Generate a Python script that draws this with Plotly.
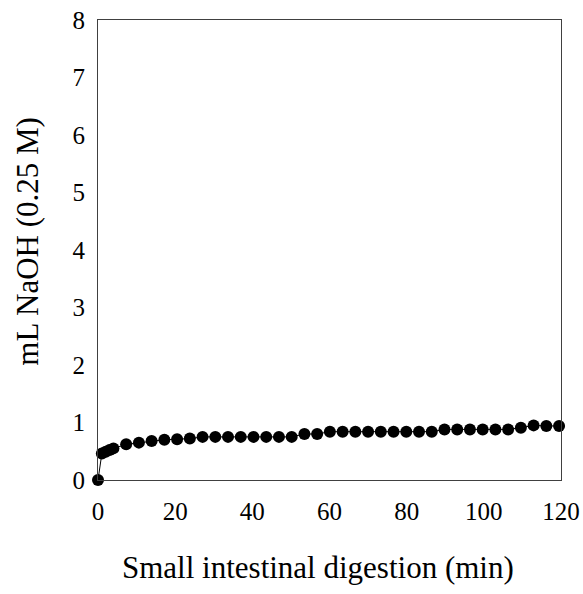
import plotly.graph_objects as go

time_min = [0, 1, 2, 3, 4, 7.3, 10.6, 13.9, 17.2, 20.5, 23.8, 27.1, 30.4, 33.7, 37.0,
            40.3, 43.6, 46.9, 50.2, 53.5, 56.8, 60.1, 63.4, 66.7, 70.0, 73.3, 76.6,
            79.9, 83.2, 86.5, 89.8, 93.1, 96.4, 99.7, 103.0, 106.3, 109.6, 112.9,
            116.2, 119.5]
naoh_ml = [0, 0.46, 0.49, 0.52, 0.55, 0.62, 0.65, 0.68, 0.70, 0.71, 0.72, 0.75, 0.75,
           0.75, 0.75, 0.75, 0.75, 0.75, 0.75, 0.80, 0.80, 0.84, 0.84, 0.84, 0.84,
           0.84, 0.84, 0.84, 0.84, 0.84, 0.88, 0.88, 0.88, 0.88, 0.88, 0.88, 0.91,
           0.95, 0.94, 0.94]
naoh_err = [0, 0.02, 0.02, 0.02, 0.02, 0.03, 0.03, 0.04, 0.03, 0.03, 0.03, 0.03, 0.03,
            0.03, 0.03, 0.03, 0.03, 0.03, 0.03, 0.03, 0.03, 0.03, 0.03, 0.03, 0.03,
            0.03, 0.03, 0.03, 0.03, 0.03, 0.03, 0.03, 0.03, 0.03, 0.03, 0.03, 0.03,
            0.03, 0.03, 0.03]

x_ticks = [0, 20, 40, 60, 80, 100, 120]
y_ticks = [0, 1, 2, 3, 4, 5, 6, 7, 8]
x_title = "Small intestinal digestion (min)"
y_title = "mL NaOH (0.25 M)"

font_family = "Liberation Serif, Times New Roman, serif"

fig = go.Figure()
fig.add_trace(go.Scatter(
    x=time_min, y=naoh_ml,
    mode="lines+markers",
    line=dict(color="black", width=1),
    marker=dict(color="black", size=12, symbol="circle"),
    error_y=dict(type="data", array=naoh_err, color="#333333", thickness=1, width=5),
    cliponaxis=False,
    showlegend=False,
))

axis_common = dict(
    showgrid=False, zeroline=False, showline=True, linecolor="#404040", linewidth=1,
    mirror=True, ticks="", automargin=False,
    tickfont=dict(family=font_family, size=25, color="black"),
)

fig.update_layout(
    width=583, height=594,
    margin=dict(l=98, r=22, t=20, b=114),
    paper_bgcolor="white", plot_bgcolor="white",
    font=dict(family=font_family, color="black"),
    xaxis=dict(range=[0, 120], tickvals=x_ticks, ticklabelstandoff=9, **axis_common),
    yaxis=dict(range=[0, 8], tickvals=y_ticks, ticklabelstandoff=7, **axis_common),
    annotations=[
        dict(text=x_title, xref="paper", yref="paper", x=0.475, y=-0.191,
             xanchor="center", yanchor="middle", showarrow=False,
             font=dict(family=font_family, size=31, color="black")),
        dict(text=y_title, xref="paper", yref="paper", x=-0.153, y=0.5185,
             xanchor="center", yanchor="middle", showarrow=False, textangle=-90,
             font=dict(family=font_family, size=31, color="black")),
    ],
)

fig.write_html("out.html")
